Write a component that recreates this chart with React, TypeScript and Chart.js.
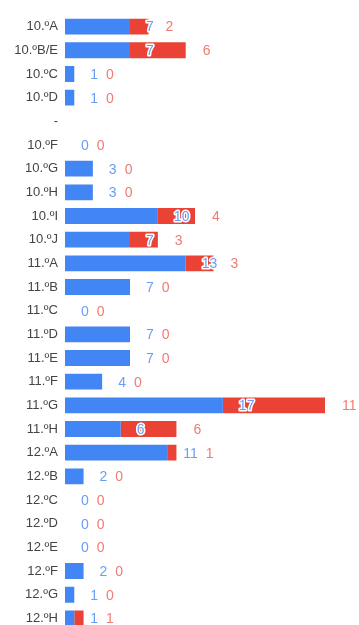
import React, { useEffect, useRef } from "react";
import { Chart, registerables } from "chart.js";

Chart.register(...registerables);

const categories: string[] = [
  "10.ºA", "10.ºB/E", "10.ºC", "10.ºD", "-", "10.ºF", "10.ºG", "10.ºH", "10.ºI", "10.ºJ",
  "11.ºA", "11.ºB", "11.ºC", "11.ºD", "11.ºE", "11.ºF", "11.ºG", "11.ºH",
  "12.ºA", "12.ºB", "12.ºC", "12.ºD", "12.ºE", "12.ºF", "12.ºG", "12.ºH",
];
const blueValues: (number | null)[] = [
  7, 7, 1, 1, null, 0, 3, 3, 10, 7, 13, 7, 0, 7, 7, 4, 17, 6, 11, 2, 0, 0, 0, 2, 1, 1,
];
const redValues: (number | null)[] = [
  2, 6, 0, 0, null, 0, 0, 0, 4, 3, 3, 0, 0, 0, 0, 0, 11, 6, 1, 0, 0, 0, 0, 0, 0, 1,
];

const BLUE = "#4285F4";
const RED = "#EA4335";
const BLUE_TEXT = "#6a9ef5";
const RED_TEXT = "#f07b72";

const valueLabels = {
  id: "valueLabels",
  afterDatasetsDraw(chart: any) {
    const ctx = chart.ctx;
    const m0 = chart.getDatasetMeta(0);
    const m1 = chart.getDatasetMeta(1);
    ctx.save();
    ctx.font = "14px 'Liberation Sans', Arial, sans-serif";
    ctx.textBaseline = "middle";
    ctx.textAlign = "left";
    ctx.lineJoin = "round";
    for (let i = 0; i < categories.length; i++) {
      const b = blueValues[i];
      const r = redValues[i];
      if (b === null || r === null) continue;
      const e0 = m0.data[i];
      const e1 = m1.data[i];
      const y = e0.y + 1;
      const bt = String(b);
      const bx = e0.x + 16;
      ctx.lineWidth = 3;
      ctx.strokeStyle = "#ffffff";
      ctx.strokeText(bt, bx, y);
      ctx.fillStyle = BLUE_TEXT;
      ctx.fillText(bt, bx, y);
      const bw = ctx.measureText(bt).width;
      const rx = Math.max(e1.x + 17, bx + bw + 8);
      const rt = String(r);
      ctx.strokeText(rt, rx, y);
      ctx.fillStyle = RED_TEXT;
      ctx.fillText(rt, rx, y);
    }
    ctx.restore();
  },
};

export default function App() {
  const canvasRef = useRef<HTMLCanvasElement | null>(null);

  useEffect(() => {
    document.body.style.margin = "0";
    document.body.style.overflow = "hidden";
    const canvas = canvasRef.current;
    if (!canvas) return;
    const chart = new Chart(canvas, {
      type: "bar",
      data: {
        labels: categories,
        datasets: [
          {
            label: "A",
            data: blueValues,
            backgroundColor: BLUE,
            barPercentage: 1,
            categoryPercentage: 0.67,
          },
          {
            label: "B",
            data: redValues,
            backgroundColor: RED,
            barPercentage: 1,
            categoryPercentage: 0.67,
          },
        ],
      },
      options: {
        indexAxis: "y",
        animation: false,
        responsive: true,
        maintainAspectRatio: false,
        layout: { padding: { top: 11, bottom: 12.6, left: 0, right: 15.4 } },
        plugins: {
          legend: { display: false },
          tooltip: { enabled: false },
        },
        scales: {
          x: {
            stacked: true,
            display: false,
            min: 0,
            max: 30,
          },
          y: {
            stacked: true,
            grid: { display: false, drawTicks: false },
            border: { display: false },
            ticks: {
              padding: 7,
              color: "#444444",
              font: { family: "'Liberation Sans', Arial, sans-serif", size: 13 },
              autoSkip: false,
            },
            afterFit(scale: any) {
              scale.width = 65;
            },
          },
        },
      },
      plugins: [valueLabels],
    });
    return () => chart.destroy();
  }, []);

  return (
    <div style={{ position: "fixed", left: 0, top: 0, width: 359, height: 625, overflow: "hidden", background: "#fff" }}>
      <div style={{ position: "relative", width: 359, height: 645 }}>
        <canvas ref={canvasRef} />
      </div>
    </div>
  );
}
